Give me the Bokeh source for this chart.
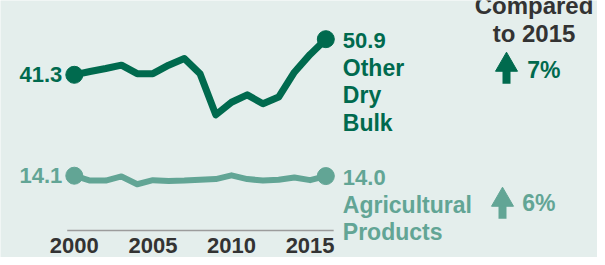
from bokeh.plotting import figure
from bokeh.models import Label, ColumnDataSource
from bokeh.embed import file_html
from bokeh.resources import INLINE

# ---------------- data ----------------
years = list(range(2000, 2017))
other_dry_bulk = [41.3, 42.2, 43.0, 43.9, 41.6, 41.6, 43.9, 45.7, 41.6, 30.5,
                  33.9, 35.9, 33.5, 35.3, 42.0, 46.8, 50.9]
agricultural = [14.1, 12.8, 12.8, 13.9, 11.8, 12.9, 12.7, 12.8, 13.0, 13.2,
                14.2, 13.2, 12.8, 13.0, 13.6, 12.9, 14.0]
series_names = [["Other", "Dry", "Bulk"], ["Agricultural", "Products"]]
change_vs_2015 = ["7%", "6%"]
header_lines = ["Compared", "to 2015"]
tick_years = [2000, 2005, 2010, 2015]

# ---------------- style ----------------
BG = "#e4eeec"
DARK = "#006a4e"
LIGHT = "#62a595"
GREY_TXT = "#333333"
FONT = "Liberation Sans"

W, H = 597, 257
PXX = 15.72                 # px per year
PYY = 3.71                  # px per unit
X_LO = 2000 - 73.8 / PXX
X_HI = X_LO + W / PXX
Y_HI = 41.3 + 74.3 / PYY
Y_LO = Y_HI - H / PYY


def dx(px):
    return X_LO + px / PXX


def dy(py):
    return Y_HI - py / PYY


p = figure(width=W, height=H, output_backend="svg", toolbar_location=None,
           x_range=(X_LO, X_HI), y_range=(Y_LO, Y_HI),
           x_axis_location=None, y_axis_location=None, min_border=0)
p.background_fill_color = BG
p.border_fill_color = BG
p.outline_line_color = None
p.grid.visible = False

# baseline rule and year labels
p.segment(x0=[years[0] - 0.45], y0=[dy(230)], x1=[years[-1] + 0.5], y1=[dy(230)],
          line_color="#9c9c9c", line_width=1.5)
p.text(x=tick_years, y=[dy(244.5)] * len(tick_years), text=[str(t) for t in tick_years],
       text_font={"value": FONT}, text_font_style="bold", text_font_size="22px",
       text_color=GREY_TXT, text_align="center", text_baseline="middle")

src = ColumnDataSource(dict(year=years, dry=other_dry_bulk, agr=agricultural))
for col, color, lw in (("agr", LIGHT, 6), ("dry", DARK, 7)):
    p.line("year", col, source=src, line_color=color, line_width=lw,
           line_join="round", line_cap="round")
    vals = src.data[col]
    p.scatter([years[0], years[-1]], [vals[0], vals[-1]], size=17,
              fill_color=color, line_color=color)


def lab(x, y, text, color, size="22px", align="left", **kw):
    p.add_layout(Label(x=x, y=y, text=text, text_color=color, text_font=FONT,
                       text_font_style="bold", text_font_size=size,
                       text_align=align, text_baseline="middle", **kw))


for vals, names, color in ((other_dry_bulk, series_names[0], DARK),
                           (agricultural, series_names[1], LIGHT)):
    lab(years[0], vals[0], f"{vals[0]:.1f}", color, align="right", x_offset=-12)
    lines = [f"{vals[-1]:.1f}"] + names
    for i, t in enumerate(lines):
        off = 1 + 27.5 * i
        lab(years[-1], vals[-1] - off / PYY, t, color,
            size="22px" if i == 0 else "23px", x_offset=17)

# header
lab(dx(533.5), dy(4.5), header_lines[0], GREY_TXT, size="24px", align="center")
lab(dx(533.5), dy(32.5), header_lines[1], GREY_TXT, size="24px", align="center")

# arrows + percentages
arrow_x = [506, 502]
arrow_top = [51.7, 186.7]
arrow_bot = [83.3, 218.3]
pct_x = [526.7, 521.7]
pct_mid = [69.0, 202.0]
for i, color in enumerate((DARK, LIGHT)):
    head = 22
    h = head * 0.866
    cx = dx(arrow_x[i])
    cy_px = arrow_top[i] + 2 * h / 3
    p.segment(x0=[cx], y0=[dy(cy_px)], x1=[cx], y1=[dy(arrow_bot[i])],
              line_color=color, line_width=8, line_cap="butt")
    p.scatter([cx], [dy(cy_px)], marker="triangle", size=head,
              fill_color=color, line_color=color, line_width=1)
    lab(dx(pct_x[i]), dy(pct_mid[i]), change_vs_2015[i], color, size="23px")

open("out.html", "w").write(file_html(p, INLINE))
